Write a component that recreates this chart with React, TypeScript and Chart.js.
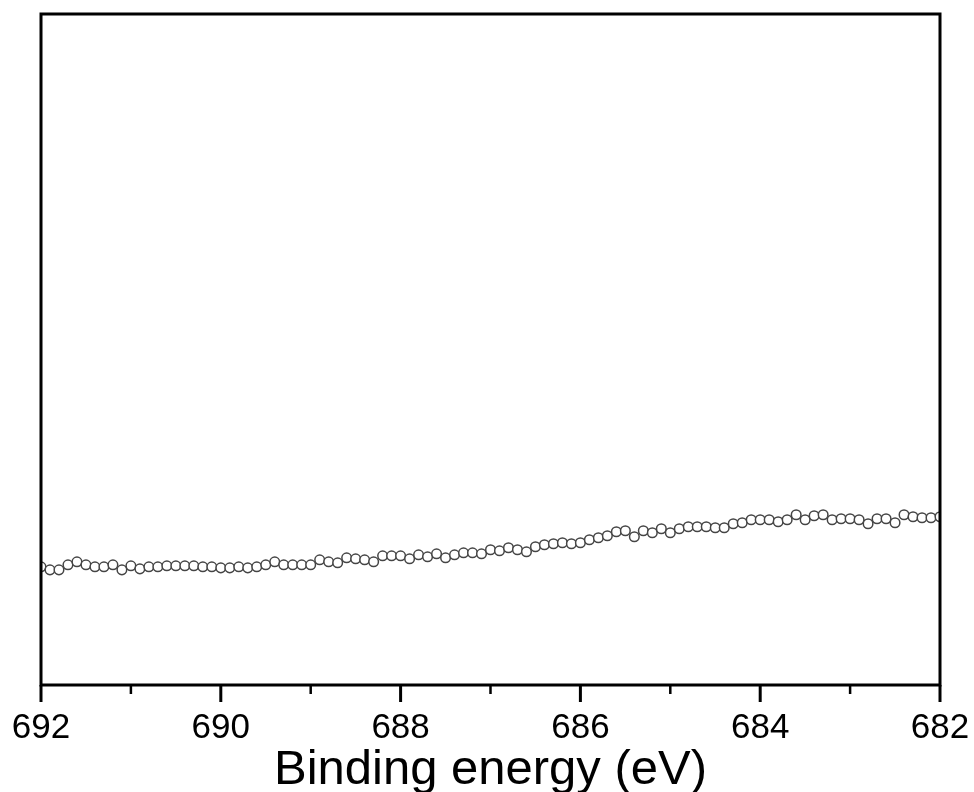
import React, { useEffect, useRef } from "react";
import { Chart, registerables } from "chart.js";

Chart.register(...registerables);

const energies: number[] = [
  692.0, 691.9, 691.8, 691.7, 691.6, 691.5, 691.4, 691.3, 691.2, 691.1,
  691.0, 690.9, 690.8, 690.7, 690.6, 690.5, 690.4, 690.3, 690.2, 690.1,
  690.0, 689.9, 689.8, 689.7, 689.6, 689.5, 689.4, 689.3, 689.2, 689.1,
  689.0, 688.9, 688.8, 688.7, 688.6, 688.5, 688.4, 688.3, 688.2, 688.1,
  688.0, 687.9, 687.8, 687.7, 687.6, 687.5, 687.4, 687.3, 687.2, 687.1,
  687.0, 686.9, 686.8, 686.7, 686.6, 686.5, 686.4, 686.3, 686.2, 686.1,
  686.0, 685.9, 685.8, 685.7, 685.6, 685.5, 685.4, 685.3, 685.2, 685.1,
  685.0, 684.9, 684.8, 684.7, 684.6, 684.5, 684.4, 684.3, 684.2, 684.1,
  684.0, 683.9, 683.8, 683.7, 683.6, 683.5, 683.4, 683.3, 683.2, 683.1,
  683.0, 682.9, 682.8, 682.7, 682.6, 682.5, 682.4, 682.3, 682.2, 682.1,
  682.0,
];

// Intensity (arbitrary units)
const intensity: number[] = [
  118, 115, 115, 120, 123, 120, 118, 118, 120, 115,
  119, 116, 118, 118, 119, 119, 119, 119, 118, 118,
  117, 117, 118, 117, 118, 120, 123, 120, 120, 120,
  120, 125, 123, 122, 127, 126, 125, 123, 129, 129,
  129, 126, 130, 128, 131, 127, 130, 132, 132, 131,
  135, 134, 137, 135, 133, 138, 140, 141, 142, 141,
  142, 145, 147, 149, 153, 154, 148, 154, 152, 156,
  152, 156, 158, 158, 158, 157, 157, 161, 162, 165,
  165, 165, 163, 165, 170, 165, 169, 170, 165, 166,
  166, 165, 161, 166, 166, 162, 170, 168, 167, 167,
  168,
];

const majorTicks: number[] = [692, 690, 688, 686, 684, 682];
const minorTicks: number[] = [691, 689, 687, 685, 683];

const xTitle = "Binding energy (eV)";
const FONT = "'Liberation Sans', Arial, sans-serif";

const framePlugin = {
  id: "frameTicks",
  afterDraw(chart: any) {
    const { ctx, chartArea } = chart;
    const xs = chart.scales.x;
    const { left, right, top, bottom } = chartArea;
    ctx.save();
    ctx.strokeStyle = "#000";
    ctx.lineWidth = 3;
    ctx.beginPath();
    ctx.rect(left, top, right - left, bottom - top);
    ctx.stroke();
    ctx.lineCap = "butt";
    majorTicks.forEach((v) => {
      const x = xs.getPixelForValue(v);
      ctx.lineWidth = 3;
      ctx.beginPath();
      ctx.moveTo(x, bottom);
      ctx.lineTo(x, bottom + 17);
      ctx.stroke();
    });
    minorTicks.forEach((v) => {
      const x = xs.getPixelForValue(v);
      ctx.lineWidth = 2.5;
      ctx.beginPath();
      ctx.moveTo(x, bottom);
      ctx.lineTo(x, bottom + 9);
      ctx.stroke();
    });
    ctx.restore();
  },
};

export default function App() {
  const ref = useRef<HTMLCanvasElement | null>(null);
  useEffect(() => {
    document.body.style.margin = "0";
    if (!ref.current) return;
    const data = energies.map((e, i) => ({ x: e, y: intensity[i] }));
    const chart = new Chart(ref.current, {
      type: "scatter",
      data: {
        datasets: [
          {
            data,
            showLine: false,
            pointStyle: "circle",
            pointRadius: 4.8,
            pointBorderWidth: 1.5,
            pointBorderColor: "#454545",
            pointBackgroundColor: "#ffffff",
            clip: 0,
          } as any,
        ],
      },
      options: {
        animation: false,
        responsive: true,
        maintainAspectRatio: false,
        layout: { padding: { left: 41, right: 34, top: 14, bottom: 0 } },
        plugins: {
          legend: { display: false },
          tooltip: { enabled: false },
        },
        scales: {
          x: {
            type: "linear",
            reverse: true,
            min: 682,
            max: 692,
            border: { display: false },
            afterFit: (scale: any) => {
              scale.paddingLeft = 0;
              scale.paddingRight = 0;
            },
            grid: {
              display: true,
              drawOnChartArea: false,
              drawTicks: true,
              tickLength: 17,
              color: "rgba(0,0,0,0)",
            },
            ticks: {
              stepSize: 2,
              padding: 9,
              color: "#000",
              font: { family: FONT, size: 35, lineHeight: 1 },
              maxRotation: 0,
              callback: (v: any) => String(v),
            },
            title: {
              display: true,
              text: xTitle,
              color: "#000",
              font: { family: FONT, size: 49, lineHeight: 1 },
              padding: { top: -9, bottom: -3 },
            },
          },
          y: {
            display: false,
            min: 0,
            max: 670,
          },
        },
      },
      plugins: [framePlugin],
    });
    return () => chart.destroy();
  }, []);
  return (
    <div style={{ position: "fixed", left: 0, top: 0, width: 974, height: 792, background: "#fff" }}>
      <canvas ref={ref} style={{ display: "block" }} />
    </div>
  );
}
